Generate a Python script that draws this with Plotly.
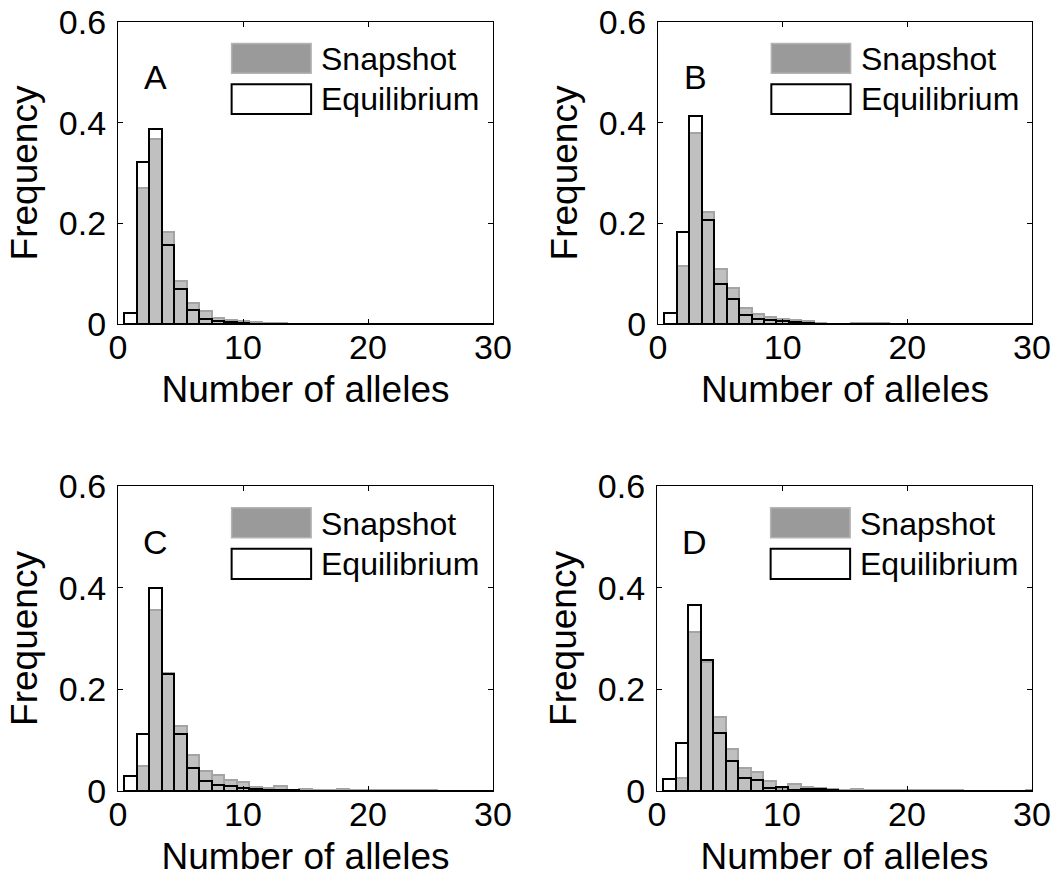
import plotly.graph_objects as go

# ---------------- data ----------------
alleles = list(range(1, 31))

snap_A = [0.000, 0.270, 0.368, 0.182, 0.085, 0.042, 0.025, 0.012, 0.008, 0.005,
          0.003, 0.002, 0.002, 0.001, 0.001, 0.0005, 0.001, 0.000, 0.000, 0.000,
          0.000, 0.000, 0.000, 0.000, 0.000, 0.000, 0.000, 0.000, 0.000, 0.000]
equi_A = [0.021, 0.322, 0.388, 0.156, 0.070, 0.027, 0.010, 0.005, 0.003, 0.002,
          0.001, 0.0007, 0.0005, 0.0003, 0.000, 0.000, 0.000, 0.000, 0.000, 0.000,
          0.000, 0.000, 0.000, 0.000, 0.000, 0.000, 0.000, 0.000, 0.000, 0.000]

snap_B = [0.000, 0.116, 0.380, 0.223, 0.110, 0.071, 0.031, 0.019, 0.013, 0.010,
          0.008, 0.005, 0.002, 0.001, 0.001, 0.002, 0.002, 0.002, 0.000, 0.000,
          0.001, 0.001, 0.000, 0.000, 0.000, 0.000, 0.000, 0.000, 0.000, 0.000]
equi_B = [0.022, 0.182, 0.414, 0.207, 0.080, 0.049, 0.017, 0.010, 0.007, 0.005,
          0.003, 0.002, 0.001, 0.001, 0.0005, 0.000, 0.000, 0.000, 0.000, 0.000,
          0.000, 0.000, 0.000, 0.000, 0.000, 0.000, 0.000, 0.000, 0.000, 0.000]

snap_C = [0.000, 0.050, 0.356, 0.232, 0.127, 0.071, 0.040, 0.031, 0.021, 0.018,
          0.007, 0.006, 0.009, 0.002, 0.004, 0.001, 0.001, 0.003, 0.001, 0.001,
          0.001, 0.001, 0.001, 0.001, 0.002, 0.000, 0.000, 0.000, 0.000, 0.000]
equi_C = [0.029, 0.112, 0.400, 0.230, 0.112, 0.045, 0.020, 0.012, 0.009, 0.005,
          0.003, 0.002, 0.001, 0.001, 0.0005, 0.0005, 0.000, 0.000, 0.000, 0.000,
          0.000, 0.000, 0.000, 0.000, 0.000, 0.000, 0.000, 0.000, 0.000, 0.000]

snap_D = [0.000, 0.025, 0.313, 0.253, 0.145, 0.083, 0.046, 0.038, 0.020, 0.004,
          0.014, 0.007, 0.005, 0.003, 0.002, 0.004, 0.001, 0.001, 0.001, 0.001,
          0.002, 0.002, 0.001, 0.001, 0.000, 0.000, 0.000, 0.000, 0.000, 0.002]
equi_D = [0.024, 0.094, 0.366, 0.257, 0.114, 0.059, 0.025, 0.021, 0.005, 0.008,
          0.002, 0.003, 0.003, 0.001, 0.0005, 0.000, 0.000, 0.000, 0.000, 0.000,
          0.000, 0.000, 0.000, 0.000, 0.000, 0.000, 0.000, 0.000, 0.000, 0.000]

panel_labels = ["A", "B", "C", "D"]
snapshots = [snap_A, snap_B, snap_C, snap_D]
equilibria = [equi_A, equi_B, equi_C, equi_D]

x_ticks = [0, 10, 20, 30]
y_ticks = [0, 0.2, 0.4, 0.6]
y_tick_text = ["0", "0.2", "0.4", "0.6"]
legend_names = ["Snapshot", "Equilibrium"]
x_title = "Number of alleles"
y_title = "Frequency"

# ---------------- layout geometry ----------------
W, H = 1055, 881


def xd(a, b):
    return [a / W, b / W]


def yd(top, bottom):
    return [1 - bottom / H, 1 - top / H]


x_domains = [xd(118, 493), xd(658, 1032), xd(118, 493), xd(657, 1032)]
y_domains = [yd(22, 324), yd(22, 324), yd(486, 791), yd(486, 791)]

FONT = "Liberation Sans, Arial, Helvetica, sans-serif"
SNAP_FILL = "#c0c0c0"
SNAP_EDGE = "#a4a4a4"

fig = go.Figure()
layout_axes = {}
shapes = []
annotations = []

for i in range(4):
    xa = "x" if i == 0 else f"x{i+1}"
    ya = "y" if i == 0 else f"y{i+1}"
    xkey = "xaxis" if i == 0 else f"xaxis{i+1}"
    ykey = "yaxis" if i == 0 else f"yaxis{i+1}"

    fig.add_trace(go.Bar(
        x=alleles, y=snapshots[i], xaxis=xa, yaxis=ya, width=1,
        marker=dict(color=SNAP_FILL, line=dict(color=SNAP_EDGE, width=2)),
        name=legend_names[0], showlegend=False))
    fig.add_trace(go.Bar(
        x=alleles, y=equilibria[i], xaxis=xa, yaxis=ya, width=1,
        marker=dict(color="rgba(0,0,0,0)", line=dict(color="black", width=2)),
        name=legend_names[1], showlegend=False))

    axis_common = dict(
        showline=True, linecolor="black", linewidth=1.3, mirror="ticks",
        ticks="inside", ticklen=5, tickwidth=1, tickcolor="black",
        showgrid=False, zeroline=False, automargin=False,
        ticklabeloverflow="allow",
        tickfont=dict(family=FONT, size=34, color="black"),
    )
    layout_axes[xkey] = dict(
        axis_common, domain=x_domains[i], anchor=ya, range=[0, 30],
        tickvals=x_ticks, ticktext=[str(t) for t in x_ticks],
        ticklabelstandoff=-7,
        title=dict(text=x_title, font=dict(family=FONT, size=37, color="black"),
                   standoff=11),
    )
    layout_axes[ykey] = dict(
        axis_common, domain=y_domains[i], anchor=xa, range=[0, 0.6],
        tickvals=y_ticks, ticktext=y_tick_text, ticklabelstandoff=4,
        title=dict(text=y_title, font=dict(family=FONT, size=37, color="black"),
                   standoff=9),
    )

    # legend patches (decoration)
    shapes.append(dict(type="rect", xref=f"{xa} domain", yref=f"{ya} domain",
                       x0=0.303, x1=0.515, y0=0.830, y1=0.929,
                       fillcolor="#9a9a9a", line=dict(color="#b4b4b4", width=1.5),
                       layer="above"))
    shapes.append(dict(type="rect", xref=f"{xa} domain", yref=f"{ya} domain",
                       x0=0.303, x1=0.515, y0=0.695, y1=0.794,
                       fillcolor="white", line=dict(color="black", width=2),
                       layer="above"))
    annotations.append(dict(text=legend_names[0], xref=f"{xa} domain", yref=f"{ya} domain",
                            x=0.537, y=0.877, xanchor="left", yanchor="middle",
                            showarrow=False, font=dict(family=FONT, size=32, color="black")))
    annotations.append(dict(text=legend_names[1], xref=f"{xa} domain", yref=f"{ya} domain",
                            x=0.537, y=0.745, xanchor="left", yanchor="middle",
                            showarrow=False, font=dict(family=FONT, size=32, color="black")))
    annotations.append(dict(text=panel_labels[i], xref=xa, yref=ya,
                            x=3, y=0.49, xanchor="center", yanchor="middle",
                            showarrow=False, font=dict(family=FONT, size=34, color="black")))

fig.update_layout(
    width=W, height=H,
    margin=dict(l=0, r=0, t=0, b=0, autoexpand=False),
    paper_bgcolor="white", plot_bgcolor="white",
    barmode="overlay", bargap=0,
    shapes=shapes, annotations=annotations,
    showlegend=False,
    **layout_axes,
)

fig.write_html(
    "out.html",
    config={"displayModeBar": False},
    post_script="document.body.style.margin='0px';document.body.style.overflow='hidden';",
)
